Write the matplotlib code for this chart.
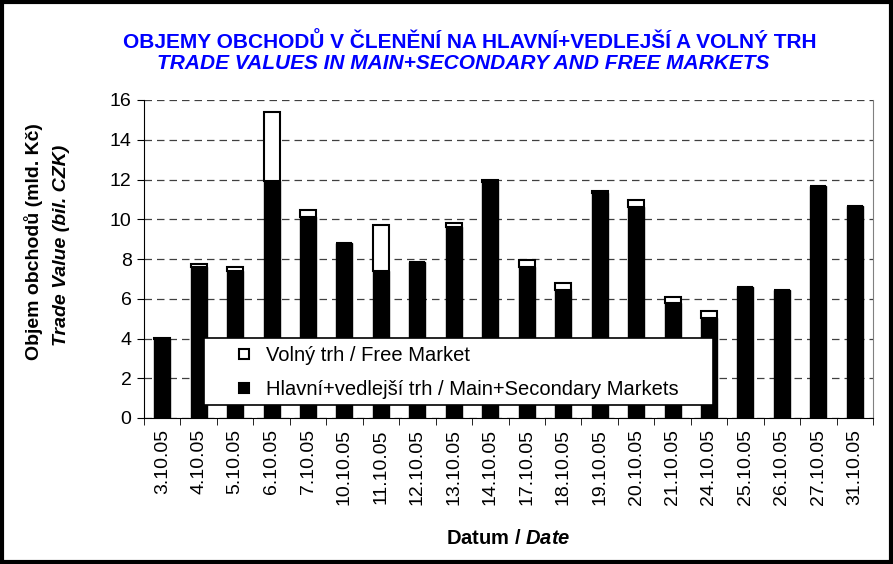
import matplotlib
matplotlib.use("Agg")
import matplotlib.pyplot as plt
import numpy as np
from matplotlib.patches import Rectangle
from matplotlib.lines import Line2D

dates = ["3.10.05", "4.10.05", "5.10.05", "6.10.05", "7.10.05", "10.10.05", "11.10.05",
         "12.10.05", "13.10.05", "14.10.05", "17.10.05", "18.10.05", "19.10.05", "20.10.05",
         "21.10.05", "24.10.05", "25.10.05", "26.10.05", "27.10.05", "31.10.05"]
main_sec = [3.95, 7.6, 7.4, 11.9, 10.1, 8.8, 7.4, 7.83, 9.6, 11.88, 7.6, 6.42, 11.32, 10.62,
            5.8, 5.02, 6.61, 6.43, 11.69, 10.65]
free = [0.08, 0.14, 0.2, 3.52, 0.35, 0.0, 2.3, 0.0, 0.23, 0.12, 0.36, 0.36, 0.12, 0.36,
        0.27, 0.36, 0.0, 0.0, 0.0, 0.0]
yticks = [0, 2, 4, 6, 8, 10, 12, 14, 16]
labels = ['Volný trh / Free Market', 'Hlavní+vedlejší trh / Main+Secondary Markets']

plt.rcParams['font.family'] = ['Liberation Sans', 'DejaVu Sans']
plt.rcParams['mathtext.fontset'] = 'custom'
plt.rcParams['mathtext.rm'] = 'Liberation Sans:bold'
plt.rcParams['mathtext.it'] = 'Liberation Sans:bold:italic'
plt.rcParams['mathtext.bf'] = 'Liberation Sans:bold'

W, H = 893, 564
fig = plt.figure(figsize=(W/100, H/100), dpi=100)
ax = fig.add_axes([144/W, 1-418/H, (873-144)/W, (418-100)/H])

x = np.arange(len(dates))
bw = 0.44
ax.bar(x, main_sec, width=bw, color='black', edgecolor='black', linewidth=1, zorder=3)
ax.bar(x, free, width=bw, bottom=main_sec, color='white', edgecolor='black', linewidth=1.5,
       zorder=3)

ax.set_xlim(-0.5, len(dates)-0.5)
ax.set_ylim(0, 16)
ax.set_yticks(yticks)
ax.set_yticklabels([str(v) for v in yticks], fontsize=14)
ax.yaxis.grid(True, linestyle=(0, (6, 4)), color='#404040', linewidth=0.9, zorder=0)
ax.set_xticks(x)
ax.set_xticklabels(dates, rotation=90, fontsize=14)
ax.tick_params(axis='x', length=0, pad=8)
ax.set_xticks(np.arange(-0.5, len(dates)), minor=True)
ax.tick_params(axis='x', which='minor', length=5, direction='out')
ax.tick_params(axis='y', length=5, direction='out', pad=4)
ax.spines['top'].set_visible(False)
ax.spines['right'].set_color('#808080')

# axis labels
fig.text(508/W, 1-538/H, r'Datum / $\mathit{Date}$', ha='center', va='center',
         fontsize=14.5, fontweight='bold')
fig.text(34/W, 1-242/H, 'Objem obchodů (mld. Kč)', rotation=90, ha='center', va='center',
         fontsize=14, fontweight='bold')
fig.text(62/W, 1-245/H, 'Trade Value (bil. CZK)', rotation=90, ha='center', va='center',
         fontsize=14, fontweight='bold', style='italic')

# titles
fig.text(470/W, 1-42/H, 'OBJEMY OBCHODŮ V ČLENĚNÍ NA HLAVNÍ+VEDLEJŠÍ A VOLNÝ TRH',
         ha='center', va='center', color='#0000ff', fontsize=15, fontweight='bold')
fig.text(463/W, 1-64/H, 'TRADE VALUES IN MAIN+SECONDARY AND FREE MARKETS',
         ha='center', va='center', color='#0000ff', fontsize=15, fontweight='bold', style='italic')

# legend box
ax.add_patch(Rectangle((204/W, 1-405/H), (713-204)/W, (405-338)/H, transform=fig.transFigure,
                       facecolor='white', edgecolor='black', linewidth=1.2, zorder=4,
                       clip_on=False))
handles = [Line2D([], [], linestyle='none', marker='s', markersize=7.5,
                  markerfacecolor='white', markeredgecolor='black', markeredgewidth=1.5),
           Line2D([], [], linestyle='none', marker='s', markersize=7.5,
                  markerfacecolor='black', markeredgecolor='black', markeredgewidth=1.5)]
leg = ax.legend(handles, labels, loc='center left',
                bbox_to_anchor=(239/W, 1-372.5/H), bbox_transform=fig.transFigure,
                fontsize=14.5, frameon=False, borderaxespad=0, borderpad=0,
                handlelength=0.5, labelspacing=0.75, handletextpad=0.85)
leg.set_zorder(5)

fig.patches.append(Rectangle((2/W, 2/H), 1-4/W, 1-4/H, transform=fig.transFigure,
                             fill=False, edgecolor='black', linewidth=3))

fig.savefig('out.png', dpi=100)
